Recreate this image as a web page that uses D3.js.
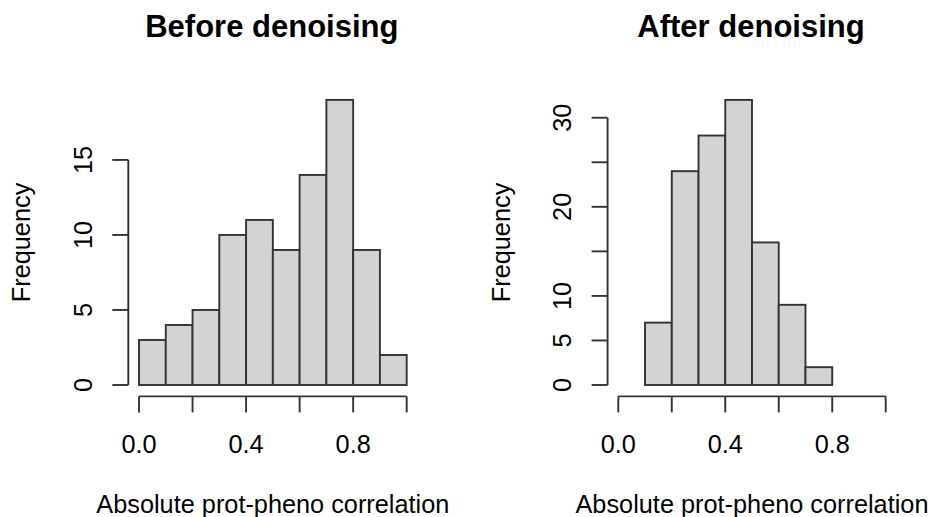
<!DOCTYPE html>
<html>
<head>
<meta charset="utf-8">
<script src="https://cdn.jsdelivr.net/npm/d3@7"></script>
<style>
  html, body { margin: 0; padding: 0; background: #ffffff; }
  svg { display: block; font-family: "Liberation Sans", Arial, sans-serif; }
</style>
</head>
<body>
<svg id="chart" width="928" height="517"></svg>
<script>
// ---- data ----
const titles = ["Before denoising", "After denoising"];
const xTitle = "Absolute prot-pheno correlation";
const yTitle = "Frequency";

const beforeBreaks = [0.0, 0.1, 0.2, 0.3, 0.4, 0.5, 0.6, 0.7, 0.8, 0.9, 1.0];
const beforeCounts = [3, 4, 5, 10, 11, 9, 14, 19, 9, 2];

const afterBreaks = [0.1, 0.2, 0.3, 0.4, 0.5, 0.6, 0.7, 0.8];
const afterCounts = [7, 24, 28, 32, 16, 9, 2];

const xTicks = [0.0, 0.2, 0.4, 0.6, 0.8, 1.0];
const xTickLabels = ["0.0", "", "0.4", "", "0.8", ""];

const beforeYTicks = [0, 5, 10, 15];
const beforeYTickLabels = ["0", "5", "10", "15"];
const afterYTicks = [0, 5, 10, 15, 20, 25, 30];
const afterYTickLabels = ["0", "5", "10", "", "20", "", "30"];

// ---- layout ----
const svg = d3.select("#chart");
const panels = [
  { left: 128.3, right: 417.4, breaks: beforeBreaks, counts: beforeCounts,
    yTicks: beforeYTicks, yLabels: beforeYTickLabels, title: titles[0] },
  { left: 607.6, right: 896.4, breaks: afterBreaks, counts: afterCounts,
    yTicks: afterYTicks, yLabels: afterYTickLabels, title: titles[1] }
];
const plotTop = 88.5, plotBottom = 396.4;
const stroke = "#333333";
const fill = "#d3d3d3";
const tickLen = 16;
const fs = 25.3;

panels.forEach(p => {
  const xmin = 0, xmax = 1;
  const ymax = d3.max(p.counts);
  const xpad = (xmax - xmin) * 0.04, ypad = ymax * 0.04;
  const x = d3.scaleLinear().domain([xmin - xpad, xmax + xpad]).range([p.left, p.right]);
  const y = d3.scaleLinear().domain([-ypad, ymax + ypad]).range([plotBottom, plotTop]);
  const g = svg.append("g");

  // bars
  const bins = p.counts.map((c, i) => ({ x0: p.breaks[i], x1: p.breaks[i + 1], c }));
  g.selectAll("rect.bar").data(bins).join("rect")
    .attr("class", "bar")
    .attr("x", d => x(d.x0))
    .attr("y", d => y(d.c))
    .attr("width", d => x(d.x1) - x(d.x0))
    .attr("height", d => y(0) - y(d.c))
    .attr("fill", fill)
    .attr("stroke", stroke)
    .attr("stroke-width", 1.9);

  // x axis
  const xa = g.append("g");
  xa.append("line")
    .attr("x1", x(xTicks[0])).attr("x2", x(xTicks[xTicks.length - 1]))
    .attr("y1", plotBottom).attr("y2", plotBottom)
    .attr("stroke", stroke).attr("stroke-width", 1.9);
  xa.selectAll("line.t").data(xTicks).join("line")
    .attr("class", "t")
    .attr("x1", d => x(d)).attr("x2", d => x(d))
    .attr("y1", plotBottom).attr("y2", plotBottom + tickLen)
    .attr("stroke", stroke).attr("stroke-width", 1.9);
  xa.selectAll("text").data(xTicks).join("text")
    .attr("x", d => x(d)).attr("y", plotBottom + 56.6)
    .attr("text-anchor", "middle")
    .attr("font-size", fs).attr("fill", "#000")
    .text((d, i) => xTickLabels[i]);

  // y axis
  const ya = g.append("g");
  ya.append("line")
    .attr("x1", p.left).attr("x2", p.left)
    .attr("y1", y(p.yTicks[0])).attr("y2", y(p.yTicks[p.yTicks.length - 1]))
    .attr("stroke", stroke).attr("stroke-width", 1.9);
  ya.selectAll("line.t").data(p.yTicks).join("line")
    .attr("class", "t")
    .attr("x1", p.left - tickLen).attr("x2", p.left)
    .attr("y1", d => y(d)).attr("y2", d => y(d))
    .attr("stroke", stroke).attr("stroke-width", 1.9);
  ya.selectAll("text").data(p.yTicks).join("text")
    .attr("transform", d => `translate(${p.left - 36.6},${y(d)}) rotate(-90)`)
    .attr("text-anchor", "middle")
    .attr("font-size", fs).attr("fill", "#000")
    .text((d, i) => p.yLabels[i]);

  // titles
  const cx = (p.left + p.right) / 2;
  g.append("text")
    .attr("x", cx - 1).attr("y", 37)
    .attr("text-anchor", "middle")
    .attr("font-size", 31).attr("font-weight", "bold").attr("fill", "#000")
    .text(p.title);
  g.append("text")
    .attr("x", cx).attr("y", plotBottom + 117)
    .attr("text-anchor", "middle")
    .attr("font-size", fs).attr("fill", "#000")
    .text(xTitle);
  g.append("text")
    .attr("transform", `translate(${p.left - 98},${(plotTop + plotBottom) / 2}) rotate(-90)`)
    .attr("text-anchor", "middle")
    .attr("font-size", fs).attr("fill", "#000")
    .text(yTitle);
});
</script>
</body>
</html>
